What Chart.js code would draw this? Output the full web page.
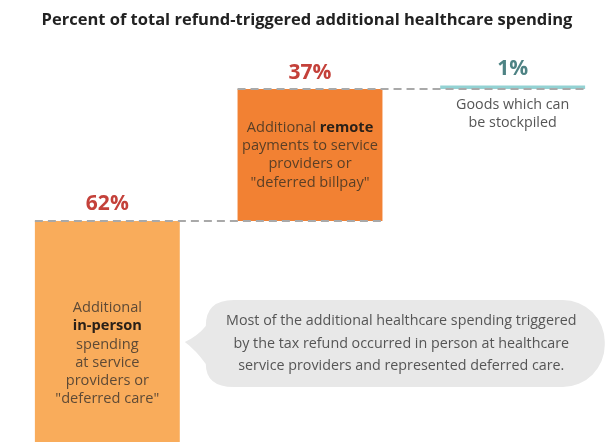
<!DOCTYPE html>
<html>
<head>
<meta charset="utf-8">
<script src="https://cdn.jsdelivr.net/npm/chart.js@4.4.1/dist/chart.umd.min.js"></script>
<style>
  html, body { margin: 0; padding: 0; background: #fff; }
  #wrap { position: relative; width: 614px; height: 442px; }
</style>
</head>
<body>
<div id="wrap"><canvas id="myChart"></canvas></div>
<script>
const chartTitle = 'Percent of total refund-triggered additional healthcare spending';
const categories = ['In-person', 'Remote', 'Stockpile'];
const shares = [62, 37, 1];
const valueLabels = ['62%', '37%', '1%'];
const barColors = ['#F9AC5B', '#F28133', '#93D2D3'];
const labelColors = ['#C4413A', '#C4413A', '#4E8384'];
const noteColors = ['#5E4A36', '#5A3F26', '#555555'];

// text inside / under each bar, each line is a list of [text, bold]
const barNotes = [
  [[['Additional', false]], [['in-person', true]], [['spending', false]], [['at service', false]], [['providers or', false]], [['"deferred care"', false]]],
  [[['Additional ', false], ['remote', true]], [['payments to service', false]], [['providers or', false]], [['"deferred billpay"', false]]],
  [[['Goods which can', false]], [['be stockpiled', false]]]
];
const calloutLines = [
  'Most of the additional healthcare spending triggered',
  'by the tax refund occurred in person at healthcare',
  'service providers and represented deferred care.'
];

// waterfall: each bar floats from the running total
let running = 0;
const ranges = shares.map(function(v) {
  const r = [running, running + v];
  running += v;
  return r;
});

const FONT = '"Open Sans", sans-serif';

function drawRich(ctx, parts, cx, y, color, size) {
  let total = 0;
  parts.forEach(function(p) {
    ctx.font = (p[1] ? 'bold ' : '') + size + 'px ' + FONT;
    total += ctx.measureText(p[0]).width;
  });
  let x = cx - total / 2;
  ctx.textAlign = 'left';
  parts.forEach(function(p) {
    ctx.font = (p[1] ? 'bold ' : '') + size + 'px ' + FONT;
    ctx.fillStyle = p[1] ? '#2a2018' : color;
    ctx.fillText(p[0], x, y);
    x += ctx.measureText(p[0]).width;
  });
}

const extras = {
  id: 'extras',
  afterDatasetsDraw: function(chart) {
    const ctx = chart.ctx;
    const y = chart.scales.y;
    const bars = chart.getDatasetMeta(0).data;
    const half = bars.map(function(b) { return b.width / 2; });

    // dashed connectors between the steps
    ctx.save();
    ctx.strokeStyle = '#A9A9A9';
    ctx.lineWidth = 2;
    ctx.setLineDash([8, 5]);
    for (let i = 0; i < bars.length - 1; i++) {
      const py = y.getPixelForValue(ranges[i][1]);
      ctx.beginPath();
      ctx.moveTo(bars[i].x - half[i], py);
      ctx.lineTo(bars[i + 1].x + half[i + 1], py);
      ctx.stroke();
    }
    ctx.restore();

    ctx.save();
    ctx.textBaseline = 'middle';

    // title
    ctx.font = 'bold 16.5px ' + FONT;
    ctx.fillStyle = '#222';
    ctx.textAlign = 'center';
    ctx.fillText(chartTitle, chart.width / 2, 20);

    // value labels
    bars.forEach(function(b, i) {
      ctx.font = 'bold 21px ' + FONT;
      ctx.fillStyle = labelColors[i];
      ctx.textAlign = 'center';
      ctx.fillText(valueLabels[i], b.x, y.getPixelForValue(ranges[i][1]) - 16.5);
    });

    // notes inside the first two bars, under the last one
    const lh = 18.3;
    bars.forEach(function(b, i) {
      const lines = barNotes[i];
      let startY;
      if (i === 2) {
        startY = y.getPixelForValue(ranges[i][0]) + 16;
      } else {
        const top = y.getPixelForValue(ranges[i][1]);
        const bot = Math.min(y.getPixelForValue(ranges[i][0]), chart.height);
        startY = (top + bot) / 2 - (lines.length - 1) * lh / 2 + (i === 0 ? 22 : 0);
      }
      lines.forEach(function(parts, k) {
        drawRich(ctx, parts, b.x, startY + k * lh, noteColors[i], i === 2 ? 14.3 : 14.6);
      });
    });

    // callout bubble pointing at the in-person bar
    const b0 = bars[0];
    const bx = b0.x + half[0] + 12;
    const by = 300, bw = 413, bh = 87, r = 42;
    ctx.fillStyle = '#E8E8E8';
    ctx.beginPath();
    ctx.moveTo(bx + r, by);
    ctx.lineTo(bx + bw - r, by);
    ctx.arcTo(bx + bw, by, bx + bw, by + r, r);
    ctx.lineTo(bx + bw, by + bh - r);
    ctx.arcTo(bx + bw, by + bh, bx + bw - r, by + bh, r);
    ctx.lineTo(bx + r, by + bh);
    ctx.quadraticCurveTo(bx + 14, by + bh, bx + 14, by + 64);
    ctx.quadraticCurveTo(bx + 4, by + 50, bx - 7, by + 42);
    ctx.quadraticCurveTo(bx + 6, by + 36, bx + 14, by + 26);
    ctx.quadraticCurveTo(bx + 14, by, bx + r, by);
    ctx.closePath();
    ctx.fill();

    ctx.font = '14.3px ' + FONT;
    ctx.fillStyle = '#555';
    ctx.textAlign = 'center';
    calloutLines.forEach(function(t, k) {
      ctx.fillText(t, bx + bw / 2 + 3, by + 21 + k * 22.5);
    });
    ctx.restore();
  }
};

const ctx = document.getElementById('myChart').getContext('2d');
const myChart = new Chart(ctx, {
  type: 'bar',
  data: {
    labels: categories,
    datasets: [{
      data: ranges,
      backgroundColor: barColors,
      borderWidth: 0,
      borderSkipped: false,
      barPercentage: 0.715,
      categoryPercentage: 1
    }]
  },
  options: {
    responsive: true,
    maintainAspectRatio: false,
    animation: false,
    layout: { padding: { left: 6, right: 0, top: 0, bottom: 0 } },
    plugins: { legend: { display: false }, tooltip: { enabled: false } },
    scales: {
      x: { display: false },
      y: { display: false, min: 0, max: 124 }
    }
  },
  plugins: [extras]
});
</script>
</body>
</html>
